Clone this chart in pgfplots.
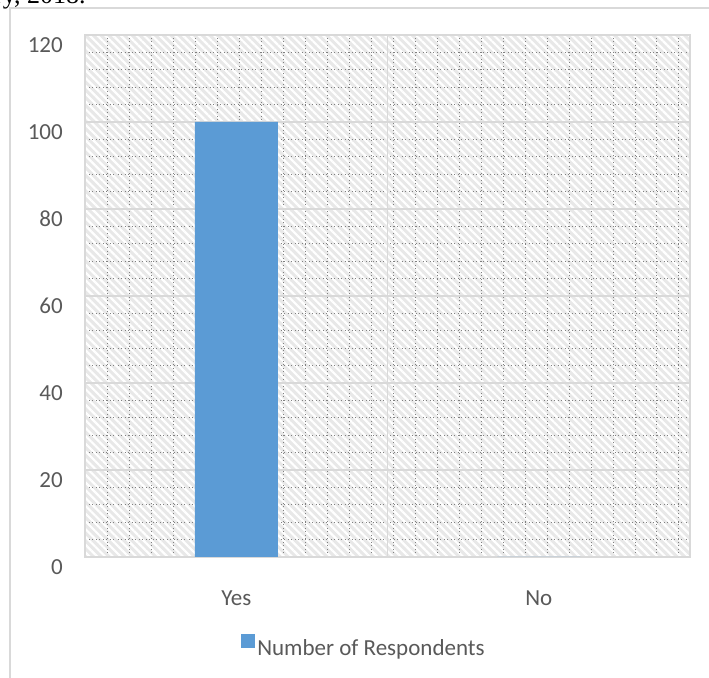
\documentclass[border=0pt]{standalone}
\usepackage{pgfplots}
\pgfplotsset{compat=1.18}
\usepackage{fontspec}
\setmainfont{Carlito}
\newfontfamily\seriffont{Liberation Serif}
\usetikzlibrary{patterns.meta}
\definecolor{barblue}{HTML}{5B9BD5}
\definecolor{txt}{HTML}{595959}
\definecolor{gridc}{HTML}{D9D9D9}
\begin{document}
\begin{tikzpicture}[x=1pt,y=1pt]
\draw[gridc, line width=1.5pt] (10,-20) rectangle (730,669);
\node[anchor=base west, inner sep=0, font=\seriffont\fontsize{26}{30}\selectfont, text=black] at (-6,673) {ry, 2018.};
\begin{axis}[
  at={(85pt,120pt)}, anchor=south west,
  width=605pt, height=522pt, scale only axis,
  xmin=-0.5, xmax=1.5, ymin=0, ymax=120,
  xtick={0,1}, xticklabels={Yes,No},
  ytick={0,20,...,120},
  minor ytick={0,4,...,120},
  minor xtick={-0.5,-0.4273,...,1.5},
  xminorgrids, yminorgrids,
  minor grid style={black!50, line width=0.6pt, dash pattern=on 0.9pt off 3.2pt on 0.6pt off 2.4pt},
  ymajorgrids,
  major grid style={gridc, line width=1.5pt},
  minor tick length=0pt, major tick length=0pt,
  extra x ticks={0.5}, extra x tick labels={},
  extra x tick style={grid=major, major tick length=0pt},
  axis line style={gridc, line width=1.5pt},
  axis background/.style={fill=black!9, postaction={pattern={Lines[angle=-45,distance=5.5pt,line width=2.2pt]}, pattern color=white}},
  /pgf/number format/assume math mode=true,
  tick label style={font=\fontsize{23}{27}\selectfont, text=txt},
  yticklabel style={anchor=east, inner sep=0pt, xshift=-22pt, yshift=-10pt},
  xticklabel style={anchor=center, inner sep=0pt, yshift=-41pt},
  legend style={at={(0.258,-0.172)}, anchor=west, draw=none, fill=none,
    font=\fontsize{23}{27}\selectfont, text=txt, inner sep=0pt,
    legend cell align=left},
  legend image code/.code={\fill[barblue] (0pt,0pt) rectangle (14pt,14pt);},
]
\addplot[ybar, bar width=83pt, fill=barblue, draw=none] coordinates {(0,100) (1,0)};
\addlegendentry{Number of Respondents}
\end{axis}
\pgfresetboundingbox
\useasboundingbox (0,0) rectangle (709,677);
\end{tikzpicture}
\end{document}
